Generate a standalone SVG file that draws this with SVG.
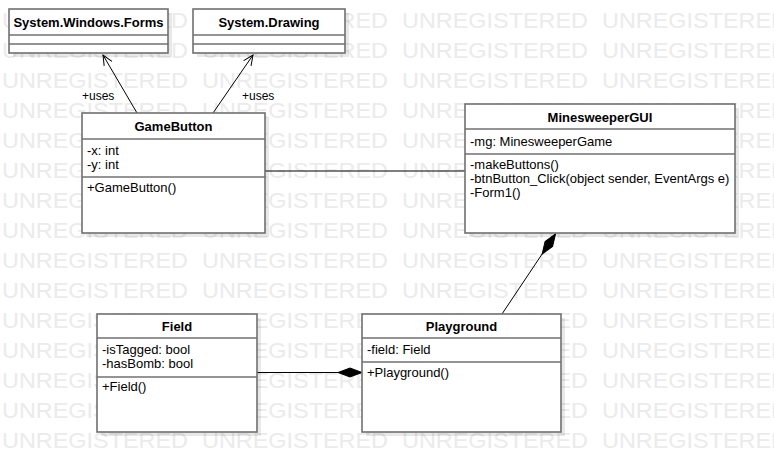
<svg xmlns="http://www.w3.org/2000/svg" xmlns:xlink="http://www.w3.org/1999/xlink" width="774" height="473" viewBox="0 0 774 473">
<style>
text{font-family:"Liberation Sans",Arial,sans-serif;font-size:13px;fill:#000}
.t{font-weight:bold;text-anchor:middle}
.wm{font-size:22px;fill:#ebebeb}
.box{fill:#fff;stroke:#707070;stroke-width:1.6}
.sh{fill:#000;fill-opacity:0.09}
.div{stroke:#707070;stroke-width:1.6}
.lbl{font-size:12px}
.edge{fill:none;stroke:#000;stroke-width:1}
</style>
<defs>
<marker id="open" viewBox="-12 -7 14 14" refX="0" refY="0" markerWidth="14" markerHeight="14" markerUnits="userSpaceOnUse" orient="auto">
<path d="M-10,-4.5 L0,0 L-10,4.5" fill="none" stroke="#000" stroke-width="1"/>
</marker>
<marker id="diamond" viewBox="-25 -6 26 12" refX="0" refY="0" markerWidth="26" markerHeight="12" markerUnits="userSpaceOnUse" orient="auto">
<path d="M0,0 L-12,-4.5 L-24,0 L-12,4.5 Z" fill="#000" stroke="#000" stroke-width="1"/>
</marker>
<g id="wmrow">
<text class="wm" x="2" y="28" textLength="186" lengthAdjust="spacingAndGlyphs">UNREGISTERED</text>
<text class="wm" x="202" y="28" textLength="186" lengthAdjust="spacingAndGlyphs">UNREGISTERED</text>
<text class="wm" x="402" y="28" textLength="186" lengthAdjust="spacingAndGlyphs">UNREGISTERED</text>
<text class="wm" x="602" y="28" textLength="186" lengthAdjust="spacingAndGlyphs">UNREGISTERED</text>
</g>
</defs>
<rect width="774" height="473" fill="#fff"/>
<g id="watermark">
<use xlink:href="#wmrow" y="0"/>
<use xlink:href="#wmrow" y="30"/>
<use xlink:href="#wmrow" y="60"/>
<use xlink:href="#wmrow" y="90"/>
<use xlink:href="#wmrow" y="120"/>
<use xlink:href="#wmrow" y="150"/>
<use xlink:href="#wmrow" y="180"/>
<use xlink:href="#wmrow" y="210"/>
<use xlink:href="#wmrow" y="240"/>
<use xlink:href="#wmrow" y="270"/>
<use xlink:href="#wmrow" y="300"/>
<use xlink:href="#wmrow" y="330"/>
<use xlink:href="#wmrow" y="360"/>
<use xlink:href="#wmrow" y="390"/>
<use xlink:href="#wmrow" y="420"/>
</g>

<g id="connectors">
<line class="edge" x1="137" y1="113" x2="103" y2="55" marker-end="url(#open)"/>
<text class="lbl" x="82" y="100">+uses</text>
<line class="edge" x1="213" y1="113" x2="253" y2="55" marker-end="url(#open)"/>
<text class="lbl" x="242" y="100">+uses</text>
<line class="edge" x1="265" y1="171" x2="465" y2="171"/>
<line class="edge" x1="257" y1="372.5" x2="362" y2="372.5" marker-end="url(#diamond)"/>
<line class="edge" x1="502" y1="314" x2="555.5" y2="234" marker-end="url(#diamond)"/>
</g>

<g id="SystemWindowsForms">
<rect class="sh" x="13" y="13" width="159" height="44"/>
<rect class="box" x="9" y="9" width="159" height="44"/>
<line class="div" x1="9" y1="35" x2="168" y2="35"/>
<line class="div" x1="9" y1="44" x2="168" y2="44"/>
<text class="t" x="88.5" y="27">System.Windows.Forms</text>
</g>

<g id="SystemDrawing">
<rect class="sh" x="197" y="13" width="152" height="44"/>
<rect class="box" x="193" y="9" width="152" height="44"/>
<line class="div" x1="193" y1="35" x2="345" y2="35"/>
<line class="div" x1="193" y1="44" x2="345" y2="44"/>
<text class="t" x="269" y="27">System.Drawing</text>
</g>

<g id="GameButton">
<rect class="sh" x="86" y="117" width="183" height="120"/>
<rect class="box" x="82" y="113" width="183" height="120"/>
<line class="div" x1="82" y1="139" x2="265" y2="139"/>
<line class="div" x1="82" y1="177" x2="265" y2="177"/>
<text class="t" x="173.5" y="131">GameButton</text>
<text x="87" y="155">-x: int</text>
<text x="87" y="169">-y: int</text>
<text x="87" y="192">+GameButton()</text>
</g>

<g id="MinesweeperGUI">
<rect class="sh" x="469" y="108" width="270" height="129"/>
<rect class="box" x="465" y="104" width="270" height="129"/>
<line class="div" x1="465" y1="129" x2="735" y2="129"/>
<line class="div" x1="465" y1="154" x2="735" y2="154"/>
<text class="t" x="600" y="122">MinesweeperGUI</text>
<text x="470" y="146">-mg: MinesweeperGame</text>
<text x="470" y="169">-makeButtons()</text>
<text x="470" y="183">-btnButton_Click(object sender, EventArgs e)</text>
<text x="470" y="197">-Form1()</text>
</g>

<g id="Field">
<rect class="sh" x="101" y="318" width="160" height="118"/>
<rect class="box" x="97" y="314" width="160" height="118"/>
<line class="div" x1="97" y1="338" x2="257" y2="338"/>
<line class="div" x1="97" y1="377" x2="257" y2="377"/>
<text class="t" x="177" y="331">Field</text>
<text x="102" y="354">-isTagged: bool</text>
<text x="102" y="368">-hasBomb: bool</text>
<text x="102" y="391">+Field()</text>
</g>

<g id="Playground">
<rect class="sh" x="366" y="318" width="199" height="118"/>
<rect class="box" x="362" y="314" width="199" height="118"/>
<line class="div" x1="362" y1="338" x2="561" y2="338"/>
<line class="div" x1="362" y1="362" x2="561" y2="362"/>
<text class="t" x="461.5" y="331">Playground</text>
<text x="367" y="354">-field: Field</text>
<text x="367" y="377">+Playground()</text>
</g>
</svg>
